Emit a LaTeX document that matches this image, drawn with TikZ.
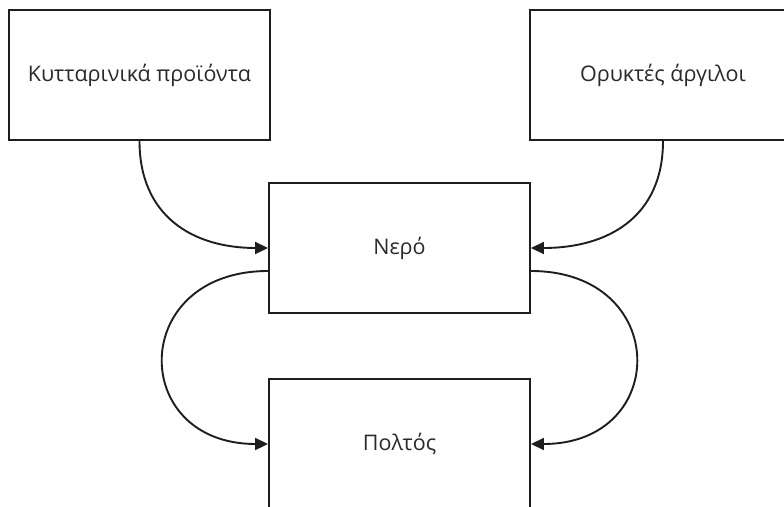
\documentclass[tikz,border=0pt]{standalone}
\usepackage{fontspec}
\setmainfont{Open Sans}
\usetikzlibrary{arrows.meta, positioning}
\definecolor{cline}{HTML}{1E1E1E}
\definecolor{ctext}{HTML}{2A2A2A}
\tikzset{
  every picture/.style={x=1pt, y=-1pt, line width=1.9pt},
  box/.style={draw=cline, fill=white, minimum width=261pt, minimum height=130pt, inner sep=0pt, font=\fontsize{21.5}{25}\selectfont, text=ctext},
  arrow/.style={-{Triangle[length=13pt, width=12pt]}, draw=cline, line width=1.9pt},
}
\begin{document}
\begin{tikzpicture}
  \useasboundingbox[fill=white] (0,0) rectangle (784,506);
  \begin{scope}
    \clip (0,0) rectangle (784,506);
    % sources on top, water in the middle, paste at the bottom
    \node[box] (cell) at (139.5,75) {Κυτταρινικά προϊόντα};
    \node[box, minimum width=266pt] (clay) at (663,75) {Ορυκτές άργιλοι};
    \node[box] (water) at (399.5,248) {Νερό};
    \node[box] (paste) at (399.5,444) {Πολτός};
    \draw[arrow] (cell.south) to[out=-90, in=180, looseness=1.15] (water.west);
    \draw[arrow] (clay.south) to[out=-90, in=0, looseness=1.15] (water.east);
    \draw[arrow] ([yshift=-23pt]water.west) to[out=180, in=180, looseness=2.07] (paste.west);
    \draw[arrow] ([yshift=-23pt]water.east) to[out=0, in=0, looseness=2.07] (paste.east);
  \end{scope}
\end{tikzpicture}
\end{document}
